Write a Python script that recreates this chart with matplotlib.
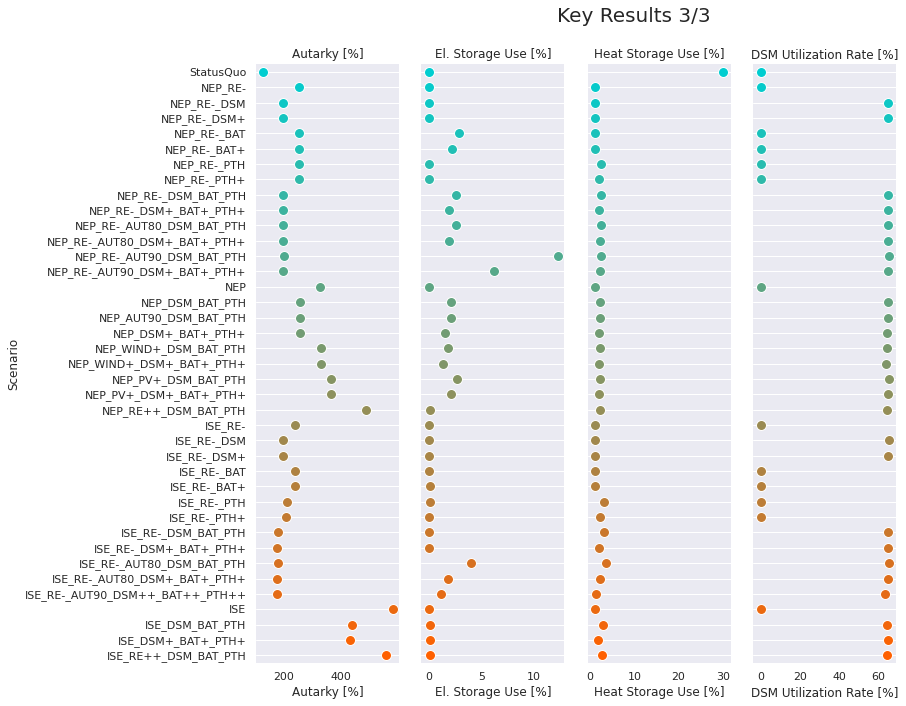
import matplotlib
matplotlib.use("Agg")
import matplotlib.pyplot as plt
import pandas as pd
import seaborn as sns
from matplotlib.colors import LinearSegmentedColormap

scenarios = [
    "StatusQuo", "NEP_RE-", "NEP_RE-_DSM", "NEP_RE-_DSM+", "NEP_RE-_BAT",
    "NEP_RE-_BAT+", "NEP_RE-_PTH", "NEP_RE-_PTH+", "NEP_RE-_DSM_BAT_PTH",
    "NEP_RE-_DSM+_BAT+_PTH+", "NEP_RE-_AUT80_DSM_BAT_PTH",
    "NEP_RE-_AUT80_DSM+_BAT+_PTH+", "NEP_RE-_AUT90_DSM_BAT_PTH",
    "NEP_RE-_AUT90_DSM+_BAT+_PTH+", "NEP", "NEP_DSM_BAT_PTH",
    "NEP_AUT90_DSM_BAT_PTH", "NEP_DSM+_BAT+_PTH+", "NEP_WIND+_DSM_BAT_PTH",
    "NEP_WIND+_DSM+_BAT+_PTH+", "NEP_PV+_DSM_BAT_PTH", "NEP_PV+_DSM+_BAT+_PTH+",
    "NEP_RE++_DSM_BAT_PTH", "ISE_RE-", "ISE_RE-_DSM", "ISE_RE-_DSM+",
    "ISE_RE-_BAT", "ISE_RE-_BAT+", "ISE_RE-_PTH", "ISE_RE-_PTH+",
    "ISE_RE-_DSM_BAT_PTH", "ISE_RE-_DSM+_BAT+_PTH+", "ISE_RE-_AUT80_DSM_BAT_PTH",
    "ISE_RE-_AUT80_DSM+_BAT+_PTH+", "ISE_RE-_AUT90_DSM++_BAT++_PTH++", "ISE",
    "ISE_DSM_BAT_PTH", "ISE_DSM+_BAT+_PTH+", "ISE_RE++_DSM_BAT_PTH",
]

autarky = [
    129, 254, 199, 199, 254, 254, 254, 254, 199, 199, 199, 199, 202, 199,
    328, 258, 258, 258, 331, 331, 366, 366, 488, 240, 199, 199, 240, 240,
    214, 209, 181, 177, 181, 177, 177, 583, 439, 431, 558,
]
el_storage = [
    0, 0, 0, 0, 2.86, 2.19, 0, 0, 2.6, 1.9, 2.6, 1.9, 12.3, 6.2,
    0, 2.1, 2.1, 1.5, 1.8, 1.33, 2.7, 2.1, 0.05, 0, 0, 0, 0, 0.05,
    0.05, 0, 0, 0, 4.0, 1.8, 1.14, 0, 0.05, 0.05, 0.05,
]
heat_storage = [
    30.0, 1.12, 1.12, 1.12, 1.12, 1.12, 2.46, 2.0, 2.46, 2.0, 2.46, 2.24,
    2.46, 2.24, 1.12, 2.24, 2.24, 2.0, 2.24, 2.0, 2.24, 2.0, 2.24, 1.12,
    1.12, 1.12, 1.12, 1.12, 3.1, 2.24, 3.1, 2.0, 3.6, 2.24, 1.34, 1.12,
    2.9, 1.8, 2.7,
]
dsm_rate = [
    0, 0, 65.1, 65.1, 0, 0, 0, 0, 65.1, 65.1, 65.1, 65.1, 65.6, 65.1,
    0, 65.1, 65.1, 64.6, 64.6, 64.1, 65.6, 65.1, 64.6, 0, 65.6, 65.1,
    0, 0, 0, 0, 65.1, 65.1, 65.6, 65.1, 63.6, 0, 64.6, 65.1, 64.6,
]

columns = ["Autarky [%]", "El. Storage Use [%]", "Heat Storage Use [%]",
           "DSM Utilization Rate [%]"]
xlims = [(105, 604), (-0.75, 12.9), (-0.5, 31.9), (-4, 69)]
xticks = [[200, 400], [0, 5, 10], [0, 10, 20, 30], [0, 20, 40, 60]]

df = pd.DataFrame({
    "Scenario": scenarios,
    columns[0]: autarky,
    columns[1]: el_storage,
    columns[2]: heat_storage,
    columns[3]: dsm_rate,
})

sns.set_theme(style="darkgrid")
plt.rcParams["font.family"] = ["DejaVu Sans"]

cmap = LinearSegmentedColormap.from_list("blend", ["#00CDD0", "#FF6000"])
palette = [cmap(i / (len(scenarios) - 1)) for i in range(len(scenarios))]

fig = plt.figure(figsize=(906 / 72, 706 / 72), dpi=72)
lefts = [0.2826, 0.4650, 0.6490, 0.8310]

for i, col in enumerate(columns):
    ax = fig.add_axes([lefts[i], 0.061, 0.158, 0.848])
    sns.stripplot(data=df, x=col, y="Scenario", hue="Scenario", palette=palette,
                  jitter=False, size=10, linewidth=1, edgecolor="w",
                  legend=False, ax=ax)
    ax.set_xlim(*xlims[i])
    ax.set_xticks(xticks[i])
    ax.set_ylim(len(scenarios) - 0.5, -0.5)
    ax.set_title(col, fontsize=12)
    ax.set_xlabel(col, fontsize=12)
    ax.tick_params(axis="x", labelsize=11)
    ax.tick_params(axis="y", labelsize=11)
    ax.xaxis.grid(False)
    ax.yaxis.grid(True)
    if i == 0:
        ax.set_ylabel("Scenario", fontsize=12)
    else:
        ax.set_ylabel("")
        ax.set_yticklabels([])
    sns.despine(ax=ax, left=True, bottom=True)

fig.suptitle("Key Results 3/3", x=0.70, y=0.99, fontsize=20)

fig.savefig("out.png", dpi=72)
